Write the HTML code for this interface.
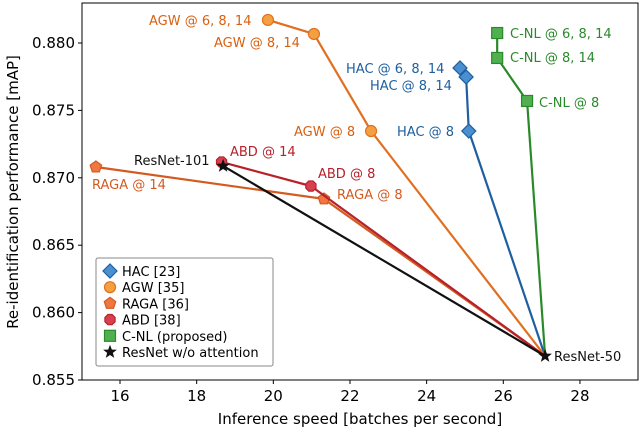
<!DOCTYPE html>
<html><head><meta charset="utf-8"><style>
body{margin:0;background:#fff;}
svg text{font-family:"DejaVu Sans","Liberation Sans",sans-serif;}
</style></head><body>
<svg id="c" width="640" height="429" viewBox="0 0 640 429" xmlns="http://www.w3.org/2000/svg">
<rect x="82" y="3" width="556" height="377" fill="#fff" stroke="#000" stroke-width="1"/>
<g id="ax"></g><g id="series"></g><g id="labels"></g>
<text x="360" y="424" font-size="15" text-anchor="middle">Inference speed [batches per second]</text>
<text transform="translate(18,192) rotate(-90)" font-size="15" text-anchor="middle">Re-identification performance [mAP]</text>
<g>
<rect x="96" y="258" width="177" height="108" fill="#fff" stroke="#888" stroke-width="1" rx="2"/>
<g id="leg"></g>
</g>
</svg>
<script>
const xTicks=[16,18,20,22,24,26,28];
const yTicks=[0.855,0.860,0.865,0.870,0.875,0.880];
const hacX=[24.87,25.03,25.1,27.09], hacY=[0.87815,0.87748,0.87347,0.85678];
const agwX=[19.86,21.06,22.55,27.09], agwY=[0.88171,0.88067,0.87347,0.85678];
const ragaX=[15.37,21.32,27.09], ragaY=[0.8708,0.86843,0.85678];
const abdX=[18.65,20.98,27.09], abdY=[0.87117,0.86939,0.85678];
const cnlX=[25.84,25.84,26.62,27.09], cnlY=[0.88074,0.87889,0.8757,0.85678];
const resX=[18.69,27.09], resY=[0.87088,0.85678];
const X=v=>120+(v-16)*38.33, Y=v=>380-(v-0.855)*13480;
const NS="http://www.w3.org/2000/svg";
function mk(t,a,p){const e=document.createElementNS(NS,t);for(const k in a)e.setAttribute(k,a[k]);p.appendChild(e);return e;}
const ax=document.getElementById('ax');
xTicks.forEach(v=>{mk('line',{x1:X(v),x2:X(v),y1:380,y2:384,stroke:'#000'},ax);
 const t=mk('text',{x:X(v),y:401,'font-size':15,'text-anchor':'middle'},ax);t.textContent=v;
 
 });
yTicks.forEach(v=>{mk('line',{x1:78,x2:82,y1:Y(v),y2:Y(v),stroke:'#000'},ax);
 const t=mk('text',{x:75,y:Y(v)+5,'font-size':15,'text-anchor':'end'},ax);t.textContent=v.toFixed(3);
 
 });
const sg=document.getElementById('series');
function marker(kind,x,y,fill,stroke,p){
 let e;
 if(kind=='d')e=mk('polygon',{points:`${x},${y-7} ${x+7},${y} ${x},${y+7} ${x-7},${y}`},p);
 else if(kind=='o')e=mk('circle',{cx:x,cy:y,r:5.5},p);
 else if(kind=='p'){let pts=[];for(let i=0;i<5;i++){const a=-Math.PI/2+i*2*Math.PI/5;pts.push((x+6*Math.cos(a))+','+(y+6*Math.sin(a)));}e=mk('polygon',{points:pts.join(' ')},p);}
 else if(kind=='h'){let pts=[];for(let i=0;i<8;i++){const a=Math.PI/8+i*Math.PI/4;pts.push((x+5.5*Math.cos(a))+','+(y+5.5*Math.sin(a)));}e=mk('polygon',{points:pts.join(' ')},p);}
 else if(kind=='s')e=mk('rect',{x:x-5.5,y:y-5.5,width:11,height:11},p);
 else {let pts=[];for(let i=0;i<10;i++){const r=i%2?2.3:5.5,a=-Math.PI/2+i*Math.PI/5;pts.push((x+r*Math.cos(a))+','+(y+r*Math.sin(a)));}e=mk('polygon',{points:pts.join(' ')},p);}
 e.setAttribute('fill',fill);e.setAttribute('stroke',stroke);e.setAttribute('stroke-width',1.2);
 return e;}
const S=[
 ['hac',hacX,hacY,'#1f5fa0','#4a90d0','d',3],
 ['agw',agwX,agwY,'#e07020','#f5a040','o',3],
 ['raga',ragaX,ragaY,'#d35a20','#f07840','p',2],
 ['abd',abdX,abdY,'#b8202a','#d84050','h',2],
 ['cnl',cnlX,cnlY,'#2a8a2a','#50b050','s',3],
 ['resnet',resX,resY,'#111','#111','*',2]];
S.forEach(s=>{const g=mk('g',{},sg);
 
 
 mk('polyline',{points:s[1].map((v,i)=>X(v)+','+Y(s[2][i])).join(' '),fill:'none',stroke:s[3],'stroke-width':2.2},g);
 const n=s[0]=='resnet'?2:s[6];
 for(let i=0;i<n;i++){if(s[0]!='resnet'&&i>=s[1].length-1)break;
  const m=marker(s[5],X(s[1][i]),Y(s[2][i]),s[4],s[3],g);
  
  }
});
const L=[
 ['AGW @ 6, 8, 14',149,25,'#d86010'],['AGW @ 8, 14',214,47,'#d86010'],['AGW @ 8',294,136,'#d86010'],
 ['HAC @ 6, 8, 14',346,73,'#1f5fa0'],['HAC @ 8, 14',370,90,'#1f5fa0'],['HAC @ 8',397,136,'#1f5fa0'],
 ['C-NL @ 6, 8, 14',510,38,'#2a8a2a'],['C-NL @ 8, 14',510,62,'#2a8a2a'],['C-NL @ 8',539,107,'#2a8a2a'],
 ['ABD @ 14',230,156,'#b8202a'],['ABD @ 8',318,178,'#b8202a'],['RAGA @ 8',337,199,'#d35a20'],
 ['RAGA @ 14',92,189,'#d35a20'],['ResNet-101',134,165,'#111'],['ResNet-50',554,361,'#111']];
const lg=document.getElementById('labels');
L.forEach(l=>{const t=mk('text',{x:l[1],y:l[2],'font-size':13,fill:l[3]},lg);t.textContent=l[0];
 
 });
const leg=document.getElementById('leg');
const LE=[['HAC [23]',0],['AGW [35]',1],['RAGA [36]',2],['ABD [38]',3],['C-NL (proposed)',4],['ResNet w/o attention',5]];
LE.forEach((e,i)=>{const y=271+i*16.2,s=S[e[1]];
 const g=mk('g',{},leg);
 
 
 marker(s[5],110,y,s[4],s[3],g);
 const t=mk('text',{x:122,y:y+5,'font-size':13},g);t.textContent=e[0];});
</script>
</body></html>
